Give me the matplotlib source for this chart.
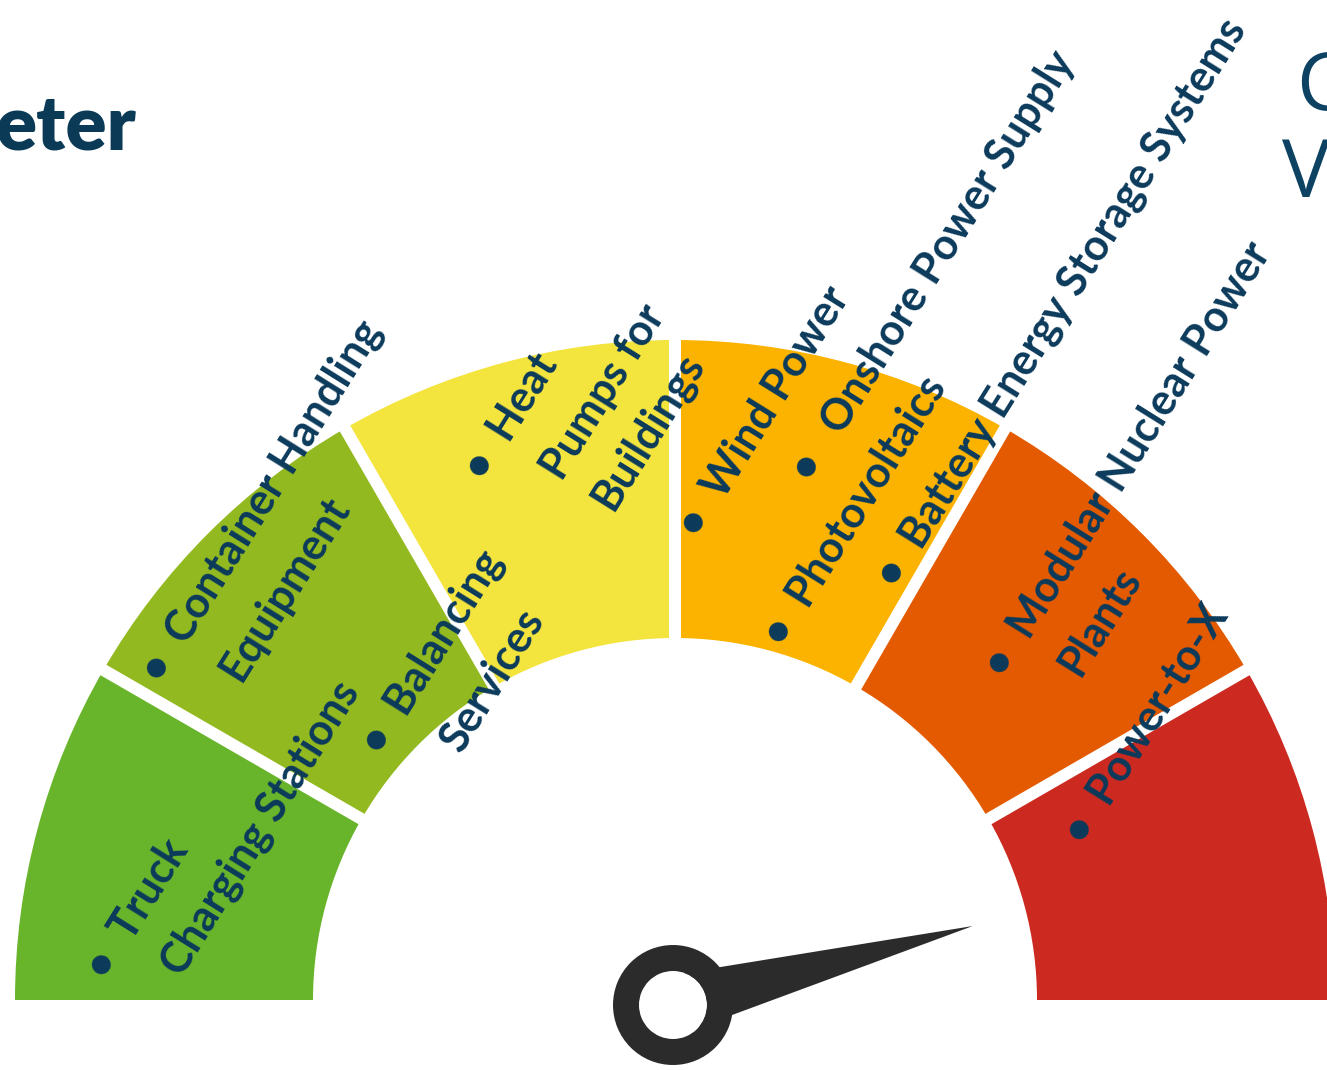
import numpy as np
import matplotlib
matplotlib.use("Agg")
import matplotlib.pyplot as plt
from matplotlib.patches import Wedge, Polygon, Circle

# ---------------- data ----------------
zone_colors = ["#68b42a", "#92b91f", "#f3e43e", "#fbb300", "#e45a00", "#cc2a20"]
zone_share = [1, 1, 1, 1, 1, 1]          # six equal zones of the gauge
needle_value = 0.918                      # position of the needle on the 0..1 scale

tech_lines = [
    ["\u2022  Truck", "Charging Stations"],
    ["\u2022  Container Handling", "Equipment"],
    ["\u2022  Balancing", "Services"],
    ["\u2022  Heat", "Pumps for", "Buildings"],
    ["\u2022  Wind Power"],
    ["\u2022   Onshore Power Supply"],
    ["\u2022  Photovoltaics"],
    ["\u2022  Battery Energy Storage Systems"],
    ["\u2022  Modular Nuclear Power", "Plants"],
    ["\u2022  Power-to-X"],
]

# ---------------- layout (pixel coords, y from top) ----------------
W, H = 1327, 1070
cx, cy = 675, 1000
R_out, R_in = 660, 362
label_anchor = [  # start of each line (left end), pixel coords
    [(100, 965), (163, 968)],
    [(155, 668), (222, 673)],
    [(375, 740), (442, 745)],
    [(478, 466), (543, 472), (593, 502)],
    [(692, 523)],
    [(805, 467)],
    [(777, 632)],
    [(890, 573)],
    [(998, 663), (1060, 668)],
    [(1078, 830)],
]
first_shift = (-4, 10)
other_shift = (8, 3)
text_color = "#0b3a5b"
label_font = "Lato"
label_size = 31
rot = 58

fig = plt.figure(figsize=(W / 100, H / 100), dpi=100)
ax = fig.add_axes([0, 0, 1, 1])
ax.set_xlim(0, W)
ax.set_ylim(0, H)
ax.axis("off")

def Y(y):
    return H - y

# gauge zones
total = sum(zone_share)
start = 180.0
bounds = []
for share, col in zip(zone_share, zone_colors):
    span = 180.0 * share / total
    ax.add_patch(Wedge((cx, Y(cy)), R_out, start - span, start, width=R_out - R_in,
                       facecolor=col, edgecolor="none", zorder=1))
    start -= span
    bounds.append(start)

# white separators
sep_lw = 12 * 72 / 100
for b in bounds[:-1]:
    t = np.deg2rad(b)
    ax.plot([cx + (R_in - 10) * np.cos(t), cx + (R_out + 10) * np.cos(t)],
            [Y(cy) + (R_in - 10) * np.sin(t), Y(cy) + (R_out + 10) * np.sin(t)],
            color="white", lw=sep_lw, solid_capstyle="butt", zorder=2)

# labels
for lines, anchors in zip(tech_lines, label_anchor):
    for i, (txt, (x, y)) in enumerate(zip(lines, anchors)):
        sx, sy = first_shift if i == 0 else other_shift
        ax.text(x + sx, Y(y + sy), txt, rotation=rot,
                rotation_mode="anchor", ha="left", va="center",
                fontsize=label_size, fontweight="bold",
                family=[label_font, "DejaVu Sans"], color=text_color, zorder=5)

# needle
hx, hy = 673, 1005
ang = np.deg2rad(180.0 * (1 - needle_value))
L = 310
half = 30
d = np.array([np.cos(ang), np.sin(ang)])
p = np.array([-np.sin(ang), np.cos(ang)])
c = np.array([hx, Y(hy)])
ax.add_patch(Polygon([c + half * p, c + L * d, c - half * p], closed=True,
                     facecolor="#2b2b2b", edgecolor="none", zorder=6))
ax.add_patch(Circle(c, 34, facecolor="white", edgecolor="none", zorder=7))
ax.add_patch(Wedge(c, 60, 0, 360, width=26, facecolor="#2b2b2b", edgecolor="none", zorder=8))

# cropped title fragments
ax.text(136, Y(150), "eter", ha="right", va="baseline", fontsize=55, fontweight="heavy",
        family=["Lato", "DejaVu Sans"], color="#0b3a57")
ax.text(1296, Y(110), "C", ha="left", va="baseline", fontsize=58,
        family=["Open Sans", "DejaVu Sans"], color="#0d4262")
ax.text(1282, Y(197), "V", ha="left", va="baseline", fontsize=58,
        family=["Open Sans", "DejaVu Sans"], color="#0d4262")

fig.savefig("out.png", dpi=100)
